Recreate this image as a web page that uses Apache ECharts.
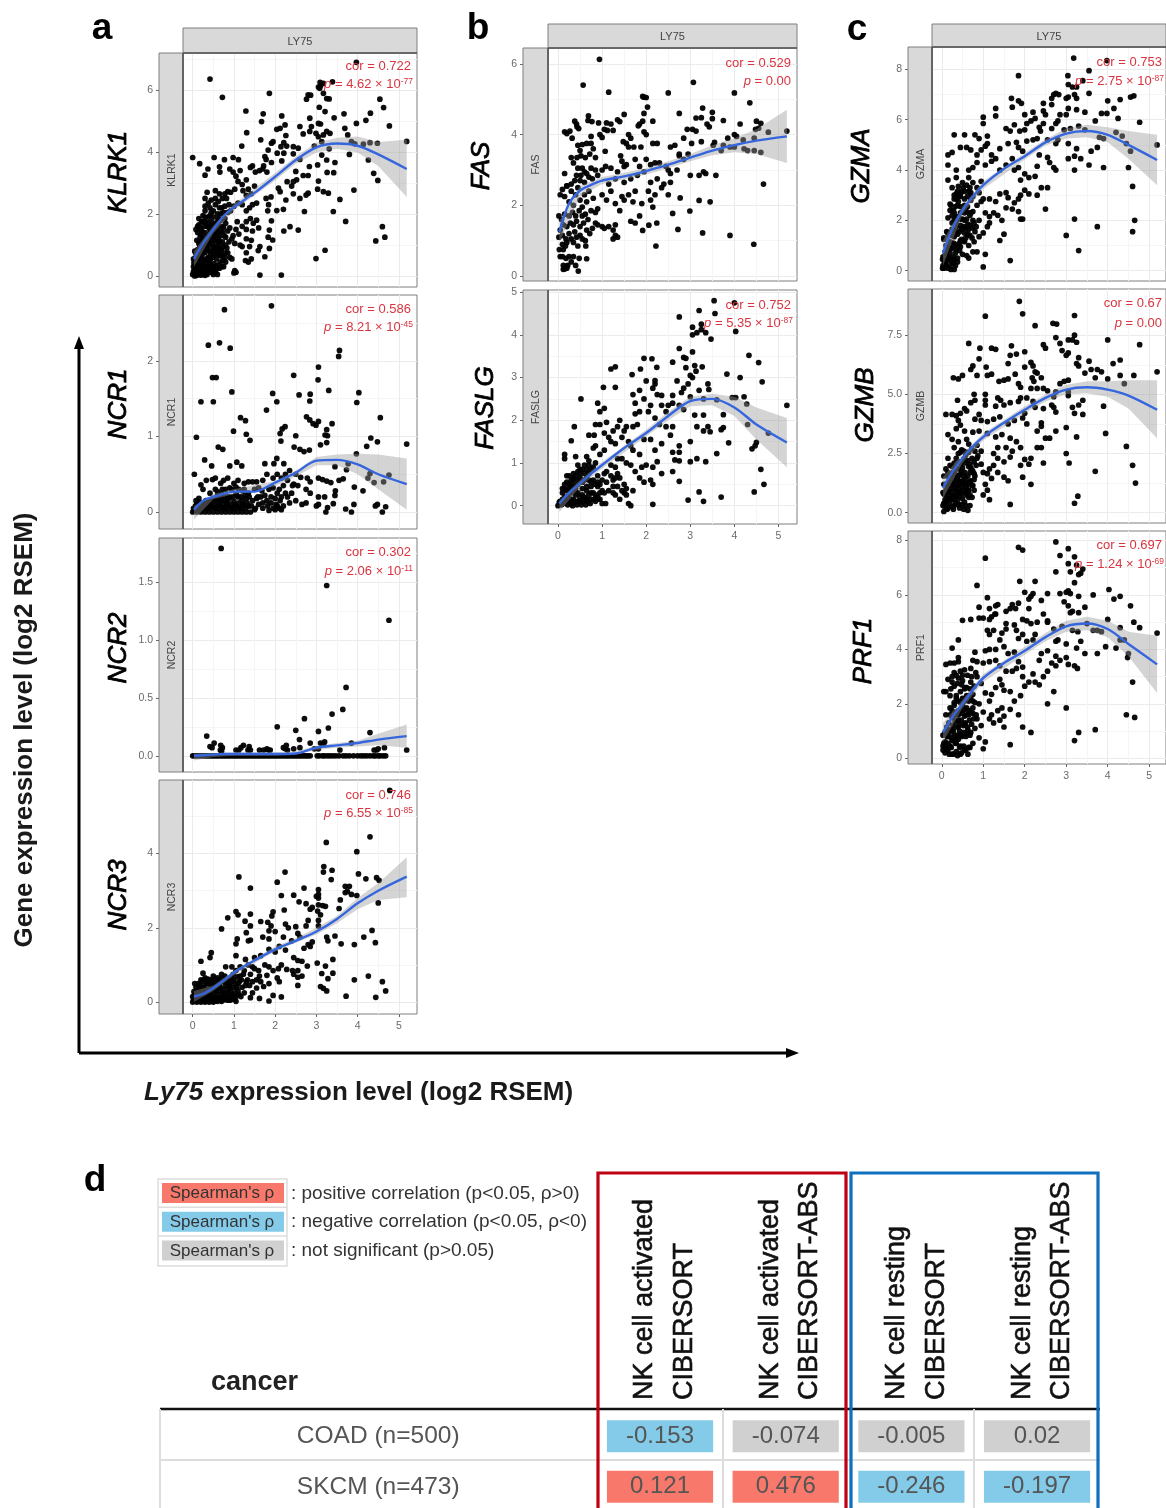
<!DOCTYPE html>
<html><head><meta charset="utf-8">
<style>html,body{margin:0;padding:0;background:#fff}#c{width:1166px;height:1508px}</style>
<script src="https://cdn.jsdelivr.net/npm/echarts@6/dist/echarts.min.js"></script></head>
<body><div id="c"></div>
<script>
const xTicks=[0,1,2,3,4,5];
const xMinor=[.5,1.5,2.5,3.5,4.5];
const cx=[.03,.25,.5,.75,1,1.5,2,2.5,3,3.5,4,4.5,5.19];
const cix=[.03,.5,1,2,2.5,3,3.5,4,4.5,5.19];

const klrk1=[.42,6.35,.72,5.76,1.86,5.89,1.29,5.32,1.71,5.23,1.67,4.98,2.16,5.16,3.97,6.89,3.39,6.26,3.09,6.24,3.05,6.09,3.1,6.13,3.17,6.21,3.08,6.05,2.8,5.84,2.76,5.7,2.86,5.83,3.17,5.89,3.25,5.72,3.31,5.71,3.07,5.44,3.21,5.3,4.54,5.7,4.63,5.43,4.31,5.25,4.2,5.02,3.97,4.92,4.77,4.84,3.67,5.23,3.43,5.1,5.19,4.34,2.24,4.87,2.12,4.76,2.04,4.73,1.31,4.62,1.65,4.39,1.19,4.19,1.91,4.28,1.95,4.33,2.26,4.53,2.21,4.3,2.14,4.17,2.28,4.19,2.44,4.17,2.56,4.12,2.21,3.96,2.44,3.94,2.05,3.96,1.83,4.06,1.75,3.85,1.78,3.76,1.91,3.66,2.16,3.71,2.6,4.82,2.84,5.09,2.88,4.82,2.68,4.58,2.84,4.66,2.99,4.6,3.05,4.92,3.1,4.9,3.25,4.66,3.17,4.55,3.05,4.49,3.33,4.6,3.13,4.33,2.95,4.19,3.31,4.1,3.69,4.76,3.76,4.55,3.85,4.33,3.93,4.26,4.14,4.25,4.3,4.3,4.48,4.28,3.8,3.92,4.26,3.74,4.39,3.31,4.49,3.08,3.91,2.77,3.57,2.47,3.41,2.08,3.71,1.76,4.6,1.59,4.66,1.25,4.44,1.13,3.21,.83,2.99,.56,1.63,.03,2.15,.03,3.45,3.66,3.25,3.74,3.13,3.9,3.03,3.58,2.83,3.53,3.26,3.34,3.42,3.33,3.05,3.06,3.03,2.8,3.17,2.72,3.29,2.67,2.8,2.67,2.75,2.61,2.6,2.5,2.44,2.65,2.26,2.45,2.71,2.08,2.68,3.24,2.8,3.24,2.5,3.37,2.6,3.76,2.44,3.04,2.52,3.1,2.4,2.9,2.29,3.04,2.12,2.72,2.08,2.83,2.56,1.48,2.36,1.59,2.21,1.45,2.2,2.15,2.04,2.11,1.91,1.78,1.86,1.48,1.83,1.25,1.94,1.16,1.86,.89,1.75,.62,1.63,.95,1.59,.82,
0,3.82,.17,3.62,.37,3.45,.3,3.25,.52,3.82,.77,3.75,.65,3.52,.66,3.35,.98,3.82,1.11,3.75,.9,3.45,.98,3.35,1.05,3.22,1.15,3.4,1.1,3.05,1.2,2.95,1.3,3.1,1.4,3.5,1.45,3.55,1.52,3.35,1.62,3.4,1.7,3.45,1.72,3.55,1.8,3.35,1.35,2.8,1.42,2.65,1.5,2.9,1.3,2.6,1.22,2.75,1.02,2.8,.92,2.7,.85,2.72,.78,2.65,.65,2.65,.55,2.75,.45,2.45,.35,2.7,.3,2.5,.42,2.2,.3,2.1,.25,1.95,.38,1.9,.5,2.1,.55,2.3,.62,2.4,.7,2.2,.72,2.5,.82,2.5,.88,2.3,.92,2.1,1,2.25,1.1,2.35,1.2,2.3,1.3,2.1,1.38,2.2,1.45,2.3,1.55,2.35,1.78,2.5,1.84,2.3,1.9,2.55,1.82,2.1,
1.3,1.75,1.4,1.85,1.47,1.7,1.55,1.8,1.6,1.55,1.45,1.45,1.3,1.5,1.2,1.6,1.12,1.35,1.05,1.5,1.08,1.75,.98,1.3,.9,1.55,.8,1.7,.7,1.6,.62,1.85,.55,1.7,.45,1.75,.35,1.6,.25,1.75,.15,1.65,.12,1.4,.08,1.5,.2,1.35,.3,1.4,.42,1.5,.5,1.4,.6,1.5,.72,1.4,.8,1.25,.88,1.1,1.02,1.05,1.15,1.0,1.2,.95,1.3,1.2,1.42,1.15,1.38,.95,1.3,.75,1.28,.5,1.35,.45,1.42,.55,
0,.05,.05,0,.08,.1,.1,.02,.12,.15,.15,.05,.18,.12,.2,.03,.22,.1,.25,.05,.28,.15,.3,.02,.32,.1,.35,.05,.05,.2,.1,.3,.02,.3,.15,.35,.2,.25,.25,.35,.3,.28,.35,.3,.4,.2,.45,.12,.5,.05,.55,.12,.6,.05,.42,.35,.48,.3,.55,.3,.65,.25,.7,.3,.75,.3,.02,.55,.08,.6,.12,.65,.18,.55,.22,.6,.28,.5,.33,.55,.38,.6,.43,.55,.48,.6,.52,.7,.58,.55,.62,.7,.68,.65,.72,.65,.05,.8,.12,.85,.2,.8,.25,.9,.3,.75,.36,.85,.42,.8,.5,.85,.55,.95,.6,.85,.65,.9,.7,.85,.15,1.05,.22,1.1,.28,1.15,.35,1.05,.4,1.1,.47,1.05,.53,1.15,.6,1.1,.66,1.1,.72,1.1,.8,1.0,.85,.75,.9,.6,.95,.55,.8,.45,1,.1,1.05,.12,1.02,.17,.38,1.3,.45,1.25,.55,1.3,.65,1.3,.18,1.55,.28,1.6,.4,1.55,.52,1.6,.62,1.65,.75,1.55,.85,1.45,.95,1.2];
const klrk1Dense=[.02,.15,.07,.25,.13,.45,.17,.3,.23,.45,.27,.25,.33,.42,.37,.15,.41,.45,.47,.2,.52,.4,.57,.22,.62,.35,.67,.45,.73,.5,.78,.6,.83,.9,.03,.42,.08,.72,.14,.75,.17,.93,.23,.72,.27,1,.32,.92,.38,.98,.44,.7,.49,.95,.53,.85,.58,.72,.63,1,.68,.78,.74,.95,.8,.75,.1,1.15,.18,1.25,.25,1.2,.31,1.25,.37,1.18,.43,1.38,.5,1.22,.57,1.38,.63,1.22,.68,1.42,.76,1.3,.12,1.6,.22,1.45,.3,1.75,.37,1.72,.45,1.62,.55,1.48,.6,1.75,.68,1.8,.78,1.85,.15,1.85,.22,1.75,.3,1.9,.42,1.95,.5,1.9,.6,2,.68,2,.75,2.05,.3,2.25,.38,2.35,.45,2.05,.55,2.5,.65,2.2,.78,2.25,.85,2.05];
const klrk1L=[.55,1.05,1.5,1.93,2.22,2.68,3.2,3.74,4.15,4.27,4.2,3.92,3.45];
const klrk1U=[.8,1.62,2.32,3.32,3.85,4.3,4.46,4.5,4.32,4.39];
const klrk1D=[.3,1.38,2.12,3.08,3.62,3.98,4.1,3.98,3.55,2.55];

const ncr1=[.77,2.68,1.91,2.73,.38,2.21,.65,2.24,.91,2.17,.48,1.78,.57,1.78,.95,1.59,.2,1.46,.5,1.46,1.94,1.57,2.04,1.46,1.79,1.35,2.45,1.81,2.58,1.55,2.85,1.56,2.84,1.47,3.05,1.92,3.04,1.75,3.56,2.14,3.54,2.06,3.3,1.61,4.03,1.58,3.98,1.45,4.55,1.25,3.38,1.17,1.16,1.25,1.28,1.21,.99,1.07,1.3,1.03,1.39,.95,.62,.86,.73,.83,.09,.99,.29,.69,.46,.61,.04,.5,2.24,1.13,2.17,1.1,2.12,1.04,2.14,.94,2.5,1.01,2.46,.86,2.6,.83,2.7,.8,2.83,.82,2.76,1.26,2.84,1.22,2.92,1.17,3.05,1.2,2.99,1.15,3.25,1.09,3.21,1.02,3.27,1.01,3.25,.92,3.1,.89,4.32,.98,4.48,.93,4.22,.87,3.97,.77,5.19,.9,2.04,.71,1.75,.64,1.97,.64,2.21,.64,1.07,.66,1.19,.61,.9,.61,4.6,0,4.68,.07,4.48,.1,4.43,.08,3.85,0,3.71,.04,3.91,.1,3.23,0,3.27,.06,3.41,.11,3.45,.22,3.46,.28,4.13,.28,3.92,.33,3.73,.56,3.77,.64,3.45,.6,4.4,.39,4.3,.51,4.25,.45,4.63,.4,4.76,.49,3.65,.44,3.55,.42,3.35,.39,3.25,.41,3.15,.43,3.05,.45,3.05,.2,3.05,.1,3,.08,3.2,.2,2.85,.25,2.75,.12,2.65,.1,2.5,.15,2.4,.25,2.3,.2,2.2,.08,2.15,.03,2,.03,1.85,.02,1.7,.05,1.6,.1,1.5,.03,2.1,.3,2.2,.35,2.3,.42,2.45,.37,2.55,.35,2.75,.3,2.85,.4,2.78,.45,2.62,.46,2.5,.5,2.35,.55,2.25,.5,2.15,.45,2.05,.5,1.95,.45,1.8,.5,1.7,.42,1.55,.4,1.45,.4,1.35,.4,1.25,.38,1.1,.42,1,.38,.85,.45,.75,.42,.68,.38,.55,.45,.48,.43,.33,.42,.25,.3,.2,.36,.42,.25,.6,.27,.7,.25,.8,.3,.95,.3,1.05,.33,1.2,.28,1.35,.25,1.5,.3,1.6,.32,1.85,.3,1.95,.32,2.05,.25,
0,0,.05,.02,.1,0,.1,.1,.15,.03,.18,.12,.2,0,.25,.05,.3,0,.3,.12,.35,.06,.4,0,.4,.15,.45,.08,.5,0,.5,.18,.55,.06,.6,0,.6,.14,.65,.08,.7,0,.7,.18,.75,.06,.8,0,.8,.15,.85,.08,.9,0,.9,.2,.95,.06,1,0,1,.14,1.05,.08,1.1,0,1.1,.2,1.15,.06,1.2,0,1.2,.15,1.25,.09,1.3,0,1.3,.18,1.35,.08,1.4,0,1.45,.15,1.55,.18,1.65,.2,1.7,.12,1.8,.15,1.9,.12,2,.18,2.05,.08,2.12,.15,1.05,.24,.85,.2,.6,.22,.15,.18,.08,.15];
const ncr1Dense=[.02,.05,.07,.08,.12,.05,.17,.07,.22,.09,.27,.12,.32,.15,.37,.12,.42,.1,.47,.14,.52,.1,.57,.17,.62,.12,.67,.15,.72,.11,.77,.2,.82,.12,.87,.17,.92,.1,.97,.2,1.02,.1,1.07,.22,1.12,.12,1.17,.2,1.22,.1,1.27,.22,1.32,.12,1.37,.2,1.42,.08,.2,.03,.3,.06,.4,.05,.5,.06,.6,.05,.7,.06,.8,.05,.9,.06,1,.05,1.1,.06,1.2,.05,1.3,.06,1.52,.05,1.58,.2,1.68,.28,1.75,.22,1.82,.08,1.9,.2,1.95,.05,2.02,.1,2.1,.05,2.15,.2,2.25,.25,2.35,.12,2.42,.35,.55,.3,.72,.3,.9,.32,1.12,.3,1.25,.3];
const ncr1L=[.03,.15,.2,.24,.27,.27,.39,.52,.68,.69,.63,.5,.37];
const ncr1U=[.08,.24,.3,.41,.55,.73,.76,.77,.76,.71];
const ncr1D=[-.1,.17,.24,.34,.47,.62,.62,.5,.3,.03];

const ncr2=[.69,1.79,3.25,1.47,4.76,1.17,3.72,.59,3.64,.4,3.38,.36,2.71,.32,2.05,.25,2.5,.22,3.05,.21,3.29,.24,4.3,.2,.34,.17,2.59,.14,.52,.11,.42,.08,.47,.07,.68,.09,.72,.07,.67,.05,.7,.04,1.12,.05,1.05,.05,1.17,.07,1.23,.09,1.34,.05,1.37,.08,1.4,.05,1.62,.05,1.72,.05,1.8,.06,1.84,.05,1.88,.05,2.2,.07,2.25,.06,2.27,.09,2.3,.05,2.45,.06,2.6,.07,2.85,.11,2.95,.06,3.05,.06,3.1,.11,3.17,.1,3.2,.12,3.85,.11,3.57,.05,4.4,.05,4.46,.05,4.5,.06,4.65,.07,5.19,.05,
0,0,.05,0,.1,0,.15,0,.2,0,.25,0,.3,0,.35,0,.4,0,.45,0,.5,0,.55,0,.6,0,.65,0,.7,0,.75,0,.8,0,.85,0,.9,0,.95,0,1,0,1.05,0,1.1,0,1.15,0,1.2,0,1.25,0,1.3,0,1.35,0,1.4,0,1.45,0,1.5,0,1.55,0,1.6,0,1.65,0,1.7,0,1.75,0,1.8,0,1.85,0,1.9,0,1.95,0,2,0,2.05,0,2.1,0,2.15,0,2.2,0,2.25,0,2.3,0,2.35,0,2.4,0,2.45,0,2.5,0,2.55,0,2.6,0,2.65,0,2.7,0,2.75,0,2.8,0,2.85,0,3.02,0,3.07,0,3.15,0,3.2,0,3.27,0,3.33,0,3.4,0,3.47,0,3.55,0,3.65,0,3.72,0,3.8,0,3.9,0,4,0,4.08,0,4.15,0,4.22,0,4.3,0,4.38,0,4.43,0,4.5,0,4.55,0,4.62,0,4.68,0];
const ncr2L=[0,.005,.01,.015,.015,.015,.015,.02,.07,.09,.11,.14,.17];
const ncr2U=[.02,.025,.03,.03,.04,.085,.11,.13,.19,.27];
const ncr2D=[-.04,-.01,0,0,.01,.05,.07,.08,.09,.07];

const ncr3=[4.78,5.7,4.3,4.45,3.24,4.3,3.98,4.05,3.18,3.65,3.17,3.5,3.38,3.55,3.36,3.3,4.02,3.45,4.2,3.32,4.46,3.35,4.52,3.28,3.7,3.12,3.8,3.12,3.7,2.95,3.75,2.98,3.85,2.9,3.98,2.87,4.5,2.67,1.12,3.37,1.4,3.07,2.24,3.5,2.05,3.23,2.15,2.87,2.45,2.88,2.7,3.07,3.05,3.03,3.05,2.9,3.0,2.85,3.05,2.8,3.58,2.75,3.55,2.52,3.05,2.62,3.15,2.6,3.22,2.58,2.58,2.7,2.75,2.65,2.85,2.5,2.9,2.55,3.03,2.45,3.1,2.35,2.22,2.48,1.95,2.43,1.92,2.32,1.05,2.44,1.1,2.35,1.4,2.37,1.27,2.18,1.4,2.05,1.65,2.17,1.82,2.15,1.9,2.05,2.25,2.1,2.32,2,2.5,2.03,2.75,2.05,2.8,2.2,3.05,2.2,3.05,2.05,.85,2.27,.7,1.97,1.3,1.87,1.08,1.7,1.05,1.57,1.35,1.65,1.4,1.67,1.7,1.75,1.85,1.7,2,1.9,1.85,1.92,2.2,1.75,2.4,1.65,2.55,1.85,2.6,1.75,2.8,1.55,2.9,1.62,2.85,1.5,2.7,1.45,3.25,1.75,3.28,1.65,3.45,1.78,3.6,1.57,3.92,1.55,4.15,1.75,4.35,1.93,4.43,1.6,3.4,1.15,3.13,.77,3.22,.97,3.4,.78,3.28,.63,3.1,.42,3.17,.37,3.25,.3,3.72,.16,3.92,.6,4.26,.7,4.6,.55,4.68,.3,4.44,.13,3.02,1.05,2.78,.97,2.65,1.1,2.55,1.12,2.42,.85,2.55,.85,2.45,.75,2.55,.67,2.65,.7,2.55,.45,2.28,.88,2.15,1,2.08,.9,2.15,.14,1.95,.18,1.85,.03,1.62,.1,1.4,.12,.9,.1,.2,1.1,.42,1.2,.45,1.33,.25,.78,.3,.65,.05,.5,1.05,1.25,1.28,1.15,1.5,1.2,1.65,1.25,1.85,1.42,2,1.35,2.1,1.5,2.25,1.4,2.45,1.2,1.75,1,1.85,.95,1.95,.85,1.6,.85,1.5,.9,1.4,.75,1.62,.7,1.8,.72,2.05,.65,2.1,.55,1.85,.5,1.72,.42,1.55,.38,1.45,.25,1.3,.55,1.15,.7,1.05,.85,.95,.95,.8,.95,.7,.75,.6,.65,.5,.7,.42,.6,.35,.5,.2,.6,.15,.4,.25,.4,.3,.3,.38,.35,.45,.45,.55,.5,.65,.5,.75,.55,.85,.6,.95,.55,1,.4,1.1,.5,1.2,.4,1.25,.25,.05,.2,.1,.3,.12,.1,.18,.22,.22,.12,.28,.18,.33,.1,.4,.2,.47,.15,.52,.25,.6,.2,.68,.3,.72,.15,.8,.25,.88,.35,.95,.2,1.05,.15,1.1,.3,0,0,.05,.05,.1,0,.15,.03,.2,0,.25,.03,.3,0,.35,.03,.4,0,.45,.03,.5,0,.55,.03,.6,.02,.65,.05,.7,.02,.75,.06,.85,.05,.95,.07,1.05,.02,0,.15,.08,.14,.15,.18,.55,.35,.65,.4,.8,.45,.9,.45,1.0,.6,1.15,.95,1.25,.85,1.35,1,1.45,.95];
const ncr3Dense=[.02,.08,.07,.12,.12,.25,.17,.35,.22,.3,.27,.4,.32,.22,.37,.15,.42,.28,.47,.35,.52,.1,.57,.3,.62,.12,.67,.4,.72,.25,.77,.35,.82,.15,.87,.22,.92,.3,.97,.12,1.02,.25,1.07,.4,1.12,.2,1.17,.15,.03,.28,.08,.4,.13,.5,.18,.45,.23,.55,.28,.6,.33,.5,.37,.62,.43,.5,.48,.55,.53,.62,.58,.45,.63,.6,.68,.55,.73,.65,.78,.7,.83,.55,.88,.48,.93,.65,.98,.75,1.03,.5,1.08,.68,1.13,.55,1.18,.6,1.23,.75,1.28,.45,1.33,.6,1.38,.45,1.45,.55,1.55,.6,1.65,.55,.4,.08,.5,.12,.6,.08,.7,.1,.8,.08,.9,.05,1.0,.08,.28,.08,.18,.08];
const ncr3L=[.15,.22,.38,.58,.8,1.12,1.42,1.65,1.9,2.24,2.66,3,3.38];
const ncr3U=[.3,.45,.85,1.5,1.72,2,2.32,2.8,3.2,3.9];
const ncr3D=[0,.3,.72,1.37,1.6,1.82,2.12,2.5,2.75,2.82];

const fas=[.94,6.13,.57,5.4,1.15,5.2,1.92,5.08,1.95,5.06,2.0,5.05,2.5,5.18,3.07,5.48,4,5.18,4.35,4.9,2.03,4.78,1.95,4.6,2.15,4.38,1.5,4.57,.69,4.53,.38,4.38,.42,4.3,.43,4.22,.47,4.17,.68,4.4,.77,4.37,.92,4.33,1.1,4.33,1.2,4.3,1.05,4.15,1.12,4.12,1.25,4.12,1.4,4.37,1.35,4.42,1.85,4.3,1.92,4.38,1.82,4.25,1.95,4.08,2.0,4.0,2.75,4.6,3.13,4.47,3.28,4.75,3.25,4.48,3.5,4.63,3.5,4.45,3.38,4.3,3.43,4.22,3.75,4.4,4.13,4.3,4.5,4.38,4.6,4.32,4.55,4.18,4.48,4.15,4.77,4.07,5.19,4.1,.15,4.08,.2,4.03,.27,4.1,.32,3.9,.75,3.95,.95,4.0,1.0,3.92,1.6,4.0,1.65,3.9,1.48,3.8,1.55,3.75,.55,3.72,.65,3.75,.75,3.75,.8,3.6,.45,3.7,.5,3.55,.3,3.35,.43,3.35,.52,3.4,.62,3.35,.72,3.45,.85,3.35,1.07,3.53,1.6,3.65,1.72,3.65,1.88,3.65,2.15,3.75,2.25,3.75,2.55,3.65,2.65,3.7,2.75,3.45,2.85,3.9,2.93,4.15,3.05,4.15,3.13,4.1,3.03,3.75,3.25,3.8,3.52,3.7,3.55,3.78,3.75,3.7,3.85,3.9,4.0,4.0,4.05,3.95,4.2,3.85,4.45,3.9,4.0,3.65,3.9,3.65,4.22,3.6,4.3,3.55,4.45,3.55,4.6,3.5,3.7,3.55,3.58,2.85,3.0,2.85,3.2,2.85,3.3,2.95,3.35,2.9,
2.22,.85,1.92,1.29,2.06,1.44,2.24,1.5,2.72,1.32,3.28,1.22,3.9,1.15,4.44,.9,2.6,1.77,2.99,1.84,2.77,2.21,3.2,2.14,3.45,2.1,4.66,2.6,.46,.14,.12,.19,.2,.28,.65,.49,
.03,.75,.05,.55,.1,.9,.12,.75,.17,.85,.2,.95,.1,.55,.18,.5,.25,.55,.3,.4,.35,.55,.12,.3,.15,.2,.2,.22,.22,.3,.4,.3,.48,.5,.02,1.1,.1,1.15,.18,1.05,.25,1.2,.3,1.05,.38,1.25,.35,.95,.42,1.1,.5,1.15,.55,1.05,.62,1,.63,.85,.45,.85,.05,1.3,.12,1.45,.2,1.4,.28,1.5,.35,1.45,.42,1.55,.5,1.4,.58,1.5,.65,1.3,.72,1.2,.78,1.35,.02,1.7,.08,1.6,.15,1.75,.25,1.7,.33,1.8,.4,1.7,.48,1.85,.55,1.7,.62,1.75,.68,1.6,.75,1.85,.85,1.5,.9,1.45,1,1.4,1.05,1.35,1.15,1.4,1.25,1.3,1.3,1.15,1.25,1.05,1.35,1.1,1.3,1.45,.05,2.3,.1,2.45,.15,2.25,.2,2.55,.25,2.1,.3,2.4,.35,2,.4,2.3,.45,2.5,.5,2.15,.55,1.95,.6,2.3,.65,2.1,.7,2.4,.8,2.2,.9,1.9,.85,1.8,1,2.3,1.1,2.15,1.2,2.4,1.3,2.05,1.45,2.25,1.4,1.85,1.5,2.15,1.6,2.3,1.7,2.1,1.75,2.4,1.9,2.05,2.05,2.4,2.1,2.15,2.15,1.95,2.2,2.3,2.35,2.5,2.5,2.3,1.65,1.55,1.75,1.5,1.85,1.7,
1.42,3.4,1.45,3.25,1.5,3.1,2.0,3.3,2.1,3.15,2.2,3.2,2.3,3.2,2.45,3.1,2.5,3,2.55,2.9,2.7,3,2.75,3.4,2.85,3.3,2.95,3.45,1.55,3.15,1.75,3.3,1.85,3.1,1.95,2.95,1.35,2.95,1.2,3.05,1.08,3.1,1,3,.9,2.85,.85,3,.75,3.05,.65,2.9,.6,2.95,.52,2.85,.45,3.05,.35,3.2,.15,2.9,.3,2.6,.2,2.55,.38,2.7,.42,2.85,.5,2.7,.55,3.05,.6,2.65,.7,2.8,.78,2.75,1.15,2.6,1.3,2.75,1.5,2.65,1.65,2.75,1.8,2.85,2.1,2.65,2.25,2.75,2.4,2.6,2.55,2.65];
const fasL=[1.25,2.05,2.42,2.58,2.7,2.82,2.97,3.15,3.35,3.55,3.7,3.83,3.95];
const fasU=[1.55,2.55,2.8,3.05,3.25,3.45,3.7,3.9,4.15,4.7];
const fasD=[.95,2.25,2.6,2.87,3.05,3.25,3.42,3.5,3.45,3.2];

const faslg=[3.54,4.8,4,4.75,3.2,4.57,3.56,4.5,2.75,4.42,3.05,4.18,3.25,4.25,3.25,4.12,3.15,4.05,3.05,4,3.35,4.05,3.47,3.9,4.03,4.08,2.75,3.68,3.05,3.6,2.85,3.47,2.9,3.45,4.33,3.52,4.55,3.35,1.95,3.45,2.13,3.44,2.6,3.36,1.3,3.25,1.2,3.2,2.24,3.24,1.87,3.2,1.68,3.07,2.9,3.23,3.1,3.28,3.13,3.15,3.27,3.25,3.0,3.05,3.05,3.0,3.83,3.08,4.13,3,4.63,2.9,1.03,2.77,1.3,2.77,2,2.92,2.2,2.93,2.2,2.85,2.15,2.75,2.7,2.92,2.95,2.85,2.85,2.75,2.8,2.65,3.2,2.7,3.4,2.85,3.42,2.72,.52,2.5,1.7,2.6,1.85,2.7,2.25,2.6,2.35,2.58,2.6,2.58,3.0,2.55,3.3,2.5,3.6,2.48,3.95,2.53,4.03,2.53,4.22,2.55,4.28,2.38,5.19,2.35,.9,2.4,.95,2.2,1.05,2.28,1.75,2.4,1.95,2.5,2.1,2.35,2.05,2.2,1.85,2.2,1.75,2.15,2.2,2.05,2.35,2.35,2.5,2.35,2.45,2.2,2.6,2.4,2.75,2.35,2.85,2.25,3.1,2.12,3.3,2.12,3.75,2.13,4.3,1.9,3.15,1.85,3.3,1.75,3.4,1.85,3.45,1.73,3.7,1.78,3.75,1.83,3.87,1.47,3,1.5,4.5,1.48,4.47,1.4,4.4,1.33,4.77,1.7,3.6,1.22,3,1.03,3.15,1.1,3.35,1.03,4.6,.85,4.67,.5,4.45,.32,3.7,.2,3.2,.32,2.95,.13,3.3,.1,2.15,.03,2.75,.57,2.6,.8,2.35,.75,2.75,1.05,2.65,1.07,2.75,1.25,2.6,1.25,2.75,1.4,2.55,1.65,2.6,1.85,2.45,1.85,2.3,1.9,2.35,1.45,2.2,1.3,2.25,1.03,2.15,.9,2,.95,1.9,.9,1.85,1.2,1.7,1.3,1.95,1.55,1.65,1.4,2.1,1.55,.37,1.85,.3,1.52,.15,1.2,.15,1.1,.4,1.15,.65,1.15,.7,1.05,.85,1.4,.8,1.35,.7,1.65,.82,1.65,.85,1.9,.95,1.9,1.05,1.7,1.1,1.95,1.15,1.6,1.2,1.5,1.3,1.45,1.25,1.75,1.35,1.85,1.4,2,1.45,1.6,1.5,1.75,1.6,1.5,1.55,1.85,1.7,1.85,1.8,1.9,1.45,1.1,1.55,1,1.65,.95,1.75,.8,1.85,.65,1.95,.55,2.1,.6,2.15,.5,1.7,.35,1.55,.4,1.6,.05,1.65,0,1.0,.05,1.08,.05,1.4,.15,1.5,.3,1.35,.45,1.25,.45,1.2,.7,1.3,.9,1.35,1.1,1.05,1.3,.95,1.2,.85,1.0,.75,.85,.7,.75,.6,.95,.5,.85,.45,.95,.35,.65,.25,.7,.2,.55,.15,.4,.1,.3,.25,.4,.35,.5,.45,.6,.55,.55,.65,.65,.75,.55,.9,.7,1,.6,1.1,.55,1.15,.35,1.05,.3,.9,.45,.85,.25,.75,.3,.65,.35,.55,.25,.45,.3,.35,.3,.3,.15,.2,.2,.1,.15,0,0,.03,.08,.08,.02,.12,.05,.18,.1,.22,.02,.28,.08,.33,0,.38,.08,.43,.02,.48,.12,.53,.02,.58,.1,.63,.02,.68,.1,.73,.05,.82,.15,.9,.15,.95,.3,1,.35];
const faslgDense=[.05,.1,.1,.05,.15,.2,.2,.1,.25,.25,.3,.05,.35,.15,.4,.25,.45,.1,.5,.2,.55,.1,.6,.2,.65,.15,.7,.25,.75,.15,.8,.3,.85,.1,.9,.2,.95,.15,.1,.4,.15,.5,.2,.35,.25,.5,.3,.45,.35,.6,.4,.4,.45,.5,.5,.65,.55,.4,.6,.6,.65,.45,.7,.6,.75,.45,.8,.6,.85,.5,.9,.55,.95,.5,.2,.7,.3,.6,.35,.75,.4,.7,.45,.8,.5,.75,.55,.85,.6,.75,.65,.85,.7,.95,.8,.9,1.05,.75,1.1,.8,1.2,.95,1.25,.6,1.3,.65,1.35,.75,1.4,.65,1.45,.35,1.5,.5,1.55,.25,1.3,.25,1.25,.3];
const faslgL=[.05,.3,.52,.75,.95,1.35,1.7,2.1,2.45,2.5,2.3,1.9,1.48];
const faslgU=[.12,.6,1.02,1.78,2.2,2.55,2.62,2.55,2.3,2.05];
const faslgD=[-.15,.44,.87,1.62,2,2.33,2.35,2.1,1.55,.9];

const gzma=[3.18,8.45,3.98,8.35,3.55,7.95,1.85,7.75,3.04,7.75,3.4,7.55,3.05,7.4,3.15,7.3,3.25,7.3,3.55,7.05,2.7,7,2.75,7.05,2.82,7,3.05,6.9,3.2,7,3.25,6.85,3.0,6.85,2.65,6.85,4,6.75,4.3,6.8,4.55,6.9,4.63,6.95,1.68,6.85,1.85,6.75,1.92,6.65,2.45,6.65,2.65,6.6,1.7,6.5,2.45,6.35,3.05,6.45,3.25,6.4,3.45,6.3,3.85,6.25,3.98,6.25,4.15,6.45,1.3,6.45,1.3,6.15,1,6.1,2.0,6.2,2.2,6.3,2.25,6.05,2.5,6.2,2.85,6.2,3,6.2,3.7,5.95,4.25,6.05,4.77,5.9,2.05,5.85,2.15,5.95,2.45,5.85,2.8,5.95,2.75,5.85,1.0,5.85,.3,5.4,.55,5.4,.8,5.4,.9,5.25,1.1,5.35,1.55,5.65,1.65,5.55,1.75,5.8,1.88,5.55,2.0,5.6,2.35,5.7,2.38,5.55,2.65,5.65,2.95,5.6,3.1,5.65,3.3,5.75,3.45,5.6,3.9,5.25,4.2,5.5,4.35,5.35,4.45,5.05,4.55,4.75,5.19,5,.15,4.6,.25,4.7,.45,4.9,.6,4.9,.7,4.8,.85,4.6,.95,4.8,1.05,4.95,1.1,5.05,1.2,4.6,1.4,4.85,1.6,5.05,1.8,5.1,1.85,4.9,1.95,4.75,2.05,5.15,2.2,5.2,2.3,5.25,2.55,5.2,2.75,5.05,2.8,5.2,3.05,5.05,3.25,4.85,3.6,4.75,3.75,4.9,3.8,5.3,3.2,4.55,3.35,4.45,3.05,4.45,3.55,4.2,3.9,4.1,4.5,4.1,4.6,3.35,3.2,4.0,2.75,4.0,2.7,4.1,2.6,4.3,2.55,4.5,2.35,4.6,2.3,4.15,2.55,3.3,2.5,2.45,3.2,2.05,3.75,1.75,4.6,1.55,4.65,2,3.0,1.4,3.3,.8,.15,4.2,.35,4.0,.15,3.6,.35,3.7,.65,4.0,.75,4.1,.85,4.3,1.05,4.2,1.2,4.35,1.3,4.45,1.4,4.0,1.55,4.2,1.7,4.45,1.75,4.0,1.85,4.1,1.9,3.6,2.0,3.85,2.1,3.7,2.25,3.75,2.4,3.3,2.3,3.0,2.1,3.05,2.0,3.2,1.9,3.0,1.85,2.85,1.75,2.7,1.6,2.9,1.55,3.1,1.4,3.05,1.3,2.75,1.15,2.85,1.0,2.85,.9,3.1,.85,3.3,.95,3.55,.75,3.5,.65,3.7,.5,3.5,.4,3.35,.25,3.3,.35,3.05,.45,2.95,.55,3.15,.65,3.15,.7,2.8,.55,2.6,.4,2.75,.3,2.85,.22,2.6,.2,2.4,.3,2.3,.15,2.1,.35,2.15,.45,2.05,.55,2.3,.68,2.2,.75,2.0,.9,2.0,1.05,2.3,1.15,2.15,1.25,2.3,1.35,2.2,1.45,2.0,1.55,2.5,1.7,2.45,1.85,2.35,1.9,2.05,1.95,2.05,1.5,1.45,1.4,1.2,1.1,1.75,1.15,1.9,1.0,1.5,.9,1.35,.8,1.55,.65,1.65,.55,1.5,.45,1.8,.35,1.75,.25,1.65,.15,1.5,.05,1.25,.1,1.0,.2,1.15,.3,1.35,.45,1.2,.55,1.15,.65,1.0,.75,.75,.85,.75,1.05,.65,1.0,.15,1.65,.4,.25,.9,.35,.85,.45,.95,.5,.65,.6,.6,.65,.5,.1,.7,.15,.55,.2,.7,.3,.45,.05,.4,.1,.2,.02,.45,.05,.1,.15,.1,.2,.2,.28,.3,.3,.05,.33,.2,.38,.35,.22,.05,.02,.1];
const gzmaDense=[.03,.2,.08,.3,.13,.4,.18,.5,.23,.4,.28,.55,.33,.7,.38,.5,.43,.8,.03,.55,.08,.75,.13,.8,.18,.95,.23,.9,.28,1.1,.33,1.05,.38,.95,.43,1.1,.48,1.25,.53,1.2,.58,1.3,.63,1.45,.68,1.4,.73,1.3,.78,1.15,.05,1.3,.12,1.55,.17,1.4,.22,1.4,.28,1.6,.33,1.55,.38,1.45,.43,1.55,.48,1.65,.53,1.75,.58,1.7,.63,1.85,.68,1.8,.73,1.7,.78,1.9,.83,1.75,.25,1.9,.3,2.05,.35,1.95,.4,2.15,.45,2.3,.5,2.05,.55,2,.6,2.05,.65,2.3,.7,2.3,.75,2.35,.2,2.65,.25,2.2,.28,2.4,.33,2.55,.38,2.6,.45,2.55,.52,2.4,.58,2.45,.62,2.55,.35,2.85,.42,2.95,.48,3.15,.55,2.85,.62,2.95,.7,3.1,.75,2.95,.3,3,.38,3.15,.45,3.05,.52,3.3,.6,3.4,.68,3.3,.85,2.6,.95,2.75];
const gzmaL=[.7,1.65,2.4,2.95,3.4,4.05,4.55,5.1,5.45,5.55,5.4,5,4.4];
const gzmaU=[1.2,2.55,3.55,4.68,5.22,5.65,5.8,5.7,5.55,5.4];
const gzmaD=[.2,2.25,3.25,4.42,4.98,5.25,5.3,5.1,4.45,3.4];

const gzmb=[1.87,8.93,1.95,8.4,1.05,8.3,3.2,8.33,2.25,7.9,2.68,8,2.77,7.97,2.75,7.4,2.85,7.15,3.05,7.3,3.15,7.3,3.2,7.5,3.25,7.2,4,7.3,4.77,7.1,.65,7.15,.92,6.95,1.2,6.95,1.3,6.9,1.68,7.05,2.45,7.1,2.5,6.95,1.65,6.65,1.8,6.7,2.0,6.8,.9,6.5,1.07,6.15,.7,6.05,.75,6.2,1.6,6.3,2.0,6.15,2.15,6.35,2.2,6.2,2.25,5.95,2.3,5.9,2.18,5.7,2.22,5.55,2.4,5.7,2.9,6.85,3.0,6.65,3.05,6.75,3.3,6.55,3.25,6.3,3.3,6.2,3.55,6.4,3.6,6.05,3.75,6.05,3.85,5.95,3.45,5.9,3.7,5.7,4.13,6.3,4.3,6.45,5.19,5.95,.28,5.7,.4,5.65,.5,5.8,.85,5.8,1.1,5.8,1.2,5.85,1.38,5.55,1.5,5.6,1.6,5.65,1.77,5.85,4.3,5.8,4.63,5.8,4,5.65,4.4,5.45,1.85,5.45,1.9,5.3,2.15,5.25,2.3,5.25,2.45,5.25,2.55,5.15,2.85,5.45,2.95,5.55,3.05,5.6,2.75,5.1,3.05,5.1,3.05,4.95,2.7,4.9,3.4,4.75,3.3,4.55,3.9,4.5,.1,4.15,.25,4.15,.35,4.1,.45,4.2,.55,4.4,.6,4.3,.38,4.75,.7,4.65,.8,4.75,.78,5,1.05,5,1.05,4.75,1.05,4.55,1.35,4.85,1.42,4.75,1.3,4.5,1.5,4.55,1.65,4.65,1.85,4.7,1.9,4.85,2.05,4.85,2.2,4.7,2.25,4.45,2.45,4.4,2.7,4.45,2.75,4.25,2.65,4.55,3.15,4.45,3.2,4.2,3.4,4.15,2.0,4.2,1.95,4.0,1.75,3.9,1.6,3.75,1.4,4.05,1.25,3.95,1.1,3.85,.95,3.9,.9,4.15,.8,3.95,.4,3.9,.45,3.7,.35,3.55,.55,3.45,.75,3.4,.9,3.45,1.1,3.35,1.3,3.2,1.45,3.3,1.65,3.15,1.8,3,1.9,2.75,2.0,2.25,2.1,2.05,2.15,2.3,2.45,2.1,2.4,2.75,2.3,2.75,2.5,3.15,2.6,3.15,2.75,3.45,2.3,3.45,2.05,3.75,2.4,3.65,2.4,3.8,3.0,3.6,3.25,3.2,3.95,3.35,4.45,2.8,4.6,2,4.67,1.25,3.7,1.75,3.0,2.5,3.07,2.1,3.2,.4,3.28,.7,2.15,1.2,1.65,.35,1.15,.55,1.0,.75,1.95,1.5,1.9,2.0,1.65,2.35,1.7,2.6,1.55,2.75,1.35,2.75,1.25,2.5,1.35,2.3,1.5,2.15,1.25,2,1.15,1.85,1.35,1.7,1.5,1.5,1.6,1.35,1.2,1.45,1.1,1.65,1,1.7,1.05,1.2,1.1,.95,.95,2.05,.85,2.3,.95,2.6,.85,2.85,.65,2.9,.6,3.1,.4,3.0,.25,3.1,.15,3.3,.3,2.75,.45,2.55,.6,2.55,.55,2.3,.35,2.3,.15,2.3,.2,2,.1,1.85,.05,1.55,.15,1.55,.3,1.7,.4,1.85,.5,1.9,.65,1.95,.75,1.75,.8,1.55,.7,1.35,.75,1.15,.65,.95,.6,.75,.5,.6,.55,.45,.4,.35,.3,.3,.05,.05,.15,.2,.25,.25,.05,.4,.1,.45,.3,.55,.2,.6,.05,.8,.1,.95,.2,1,.3,1.05,.4,1,.5,1.1,.6,1.25,.5,1.35,.4,1.35,.3,1.3,.2,1.35,.1,1.2,.15,1.55,.3,1.5,.45,1.6,.55,1.7,.7,1.9,.35,.7,.45,.9,.65,.65,.25,.7,.15,.6,.08,.25];
const gzmbDense=[.03,.3,.08,.55,.13,.15,.18,.4,.23,.55,.28,.15,.33,.4,.38,.55,.43,.2,.48,.35,.53,.15,.58,.3,.63,.1,.68,.3,.03,.85,.08,.75,.13,.9,.18,.75,.23,.85,.28,.7,.33,.9,.38,.85,.43,.7,.48,.8,.53,.95,.58,.85,.63,.95,.68,.75,.73,.65,.78,.95,.05,1.2,.12,1.15,.17,1.3,.22,1.15,.27,1.25,.32,1.15,.37,1.15,.42,1.2,.47,1.3,.53,1.2,.58,1.05,.63,1.2,.68,1.3,.73,1.15,.78,1.4,.15,1.7,.22,1.55,.27,1.7,.33,1.6,.38,1.45,.43,1.6,.48,1.75,.53,1.55,.58,1.45,.63,1.55,.68,1.7,.73,1.8,.78,1.65,.25,1.95,.3,2.1,.35,1.9,.42,2.15,.47,2.05,.53,2.25,.58,2.1,.63,2.2,.68,2.05,.73,2.3,.78,2.15,.83,2.0,.4,2.5,.48,2.65,.53,2.6,.58,2.45,.65,2.55,.72,2.7,.8,2.6,.87,2.4];
const gzmbL=[1.05,1.7,2.3,2.8,3.2,3.8,4.35,4.85,5.2,5.3,5.2,4.95,4.35];
const gzmbU=[1.5,2.5,3.35,4.5,5,5.4,5.55,5.55,5.6,5.6];
const gzmbD=[.6,2.1,3.05,4.2,4.7,5,5.05,4.9,4.4,3.15];

const prf1=[2.75,7.95,1.85,7.75,1.95,7.65,3.05,7.7,2.85,7.45,3.2,7.4,1.05,7.35,3.05,7.15,3.25,7.1,3.4,6.95,2.75,6.85,3.1,6.85,3.3,6.75,3.35,6.8,3.2,6.45,1.88,6.5,2.25,6.5,.85,6.35,4.03,6.2,2.0,6.1,2.2,6.05,2.15,5.95,2.85,6.05,3.0,6.1,3.05,6.15,3.1,6.05,2.55,6.05,3.3,5.95,3.65,6,4.15,5.85,4.3,5.95,1.1,5.9,1.3,5.6,1.35,5.65,1.7,5.65,1.65,5.5,1.85,5.7,1.78,5.5,2.1,5.85,2.4,5.8,2.1,5.5,2.45,5.3,2.55,5.05,2.95,5.75,3.05,5.6,3.1,5.35,3.15,5.4,3.3,5.35,3.45,5.55,.9,5.55,1.15,5.5,1.3,5.3,1.55,5.4,4.55,5.6,4.63,5,4.77,4.8,5.19,4.6,1.0,5.15,.7,5.1,.5,5.07,.9,5.15,1.15,5.1,1.2,5.2,1.28,5.3,1.55,4.95,1.75,4.9,1.95,5.1,2.05,5.05,2.15,4.95,2.3,5.0,2.55,5.0,2.7,4.75,2.9,4.85,3.15,4.7,3.28,4.65,3.5,4.95,3.65,4.7,3.75,4.7,3.85,4.65,4.0,5.1,4.3,4.8,1.1,4.7,1.15,4.55,1.25,4.7,1.45,4.6,1.55,4.75,1.8,4.7,1.85,4.4,1.95,4.55,2.05,4.3,2.25,4.55,2.2,4.35,2.75,4.3,2.8,4.35,3.0,4.2,3.35,4.3,3.25,4.05,3.45,3.85,3.75,3.85,3.95,4.1,4.2,4.05,4.3,4.35,4.4,4.35,4.5,3.85,4.48,3.7,4.6,2.8,4.45,1.6,4.65,1.5,3.7,1.05,3.3,.95,3.2,.65,3.0,1.85,2.7,2.45,2.55,2,2.85,3.6,3.0,3.7,3.05,3.45,3.2,3.4,3.27,3.3,2.75,3.75,2.75,3.4,2.65,3.5,2.55,3.2,2.35,3.6,2.4,3.85,2.55,3.95,2.2,3.1,2.1,2.8,2.25,2.8,2.35,2.7,2.45,3.0,1.95,3.35,1.85,3.55,1.75,3.9,1.6,3.85,1.5,4.1,1.4,4.35,1.3,4.0,1.15,4.0,1.05,3.95,.8,3.9,.75,3.6,.4,4.35,.25,4.05,.4,3.7,.4,3.55,.1,3.45,.2,3.5,.3,3.5,.3,3.15,.45,3.2,.55,3.25,.7,3.3,.85,3.55,1.0,3.5,1.15,3.55,1.3,3.6,1.4,3.4,1.55,3.2,1.7,3.2,1.8,3.3,1.95,3.0,2.0,2.65,1.9,2.3,1.75,2.1,1.65,2.45,1.5,2.5,1.4,2.9,1.45,2.7,1.3,2.6,1.2,2.35,1.15,2.1,1.05,2.4,.95,2.75,.85,3.0,.7,2.8,.6,2.6,.5,2.85,.4,2.95,.25,2.8,.15,2.9,.1,2.45,.05,2.45,.2,2.3,.35,2.2,.45,2.45,.55,2.55,.65,2.3,.75,2.1,.9,2.0,1.0,1.7,1.2,1.6,1.35,1.75,1.45,1.85,1.5,1.55,1.65,1.8,1.85,1.6,1.5,1.15,1.95,1.15,2.15,.95,1.65,.5,1.05,.6,1,.35,1.15,1.45,1.25,1.3,1.4,1.4,.9,.75,.8,1.1,.95,1.2,.85,1.45,.75,1.65,.6,1.85,.5,1.95,.4,1.75,.3,1.95,.2,1.85,.1,1.6,.25,1.5,.4,1.4,.55,1.55,.65,1.6,.55,1.25,.4,1.15,.25,1.05,.1,1,.03,.85,.15,.8,.3,.85,.45,.85,.6,.9,.7,.95,.75,.55,.65,.4,.55,.3,.45,.45,.35,.55,.25,.65,.15,.55,.05,.55,.03,.3,.08,.2,.15,.3,.25,.15,.35,.25,.45,.15,.55,.3,.2,.45,.1,.4,.3,.7,.4,.7];
const prf1Dense=[.03,.45,.08,.6,.13,.4,.18,.15,.23,.4,.28,.15,.33,.55,.38,.1,.43,.4,.48,.2,.53,.45,.58,.3,.63,.15,.68,.4,.08,.95,.13,.8,.18,.95,.23,.75,.28,1,.33,.7,.38,.85,.43,1,.48,.8,.53,.95,.58,.8,.63,1.05,.68,.85,.12,1.15,.17,1.3,.22,1.05,.27,1.2,.32,1.35,.37,1.15,.42,1.25,.47,1.4,.52,1.2,.57,1.3,.62,1.15,.67,1.4,.72,1.25,.77,1.45,.2,1.6,.25,1.75,.3,1.55,.35,1.7,.4,1.6,.45,1.75,.5,1.65,.55,1.8,.6,1.6,.65,1.75,.7,1.7,.75,1.85,.83,1.6,.3,2.05,.35,2.3,.4,2.1,.45,2.05,.5,2.2,.55,2.1,.6,2.3,.65,2.1,.7,2.25,.75,2.35,.8,2.05,.22,2.55,.3,2.65,.38,2.75,.48,2.7,.58,2.6,.68,2.55,.78,2.65,.25,3,.35,3.05,.5,3.05,.62,3.05,.72,3,.82,3.15];
const prf1L=[.95,1.5,2,2.5,2.95,3.5,3.95,4.45,4.85,4.95,4.75,4.2,3.45];
const prf1U=[1.3,2.15,3.1,4.1,4.6,5.05,5.2,5.05,4.65,4.5];
const prf1D=[.6,1.85,2.8,3.8,4.3,4.65,4.7,4.45,3.75,2.4];

const panels=[
 {gene:'KLRK1',pts:klrk1.concat(klrk1Dense),line:klrk1L,up:klrk1U,dn:klrk1D,ticks:[0,2,4,6],minor:[1,3,5,7],dec:0,left:183,right:417,top:53,bottom:287,x:[-.235,5.44],y:[-.355,7.19],xlab:0,strip:159,cor:'0.722',p:'4.62',e:'-77',ax:[411,66,84],lab:[119,172],topStrip:28,stripMid:300},
 {gene:'NCR1',pts:ncr1.concat(ncr1Dense),line:ncr1L,up:ncr1U,dn:ncr1D,ticks:[0,1,2],minor:[.5,1.5,2.5],dec:0,left:183,right:417,top:295,bottom:529,x:[-.235,5.44],y:[-.225,2.874],xlab:0,strip:159,cor:'0.586',p:'8.21',e:'-45',ax:[411,309,327],lab:[119,404]},
 {gene:'NCR2',pts:ncr2,line:ncr2L,up:ncr2U,dn:ncr2D,ticks:[0,.5,1,1.5],minor:[.25,.75,1.25,1.75],dec:1,left:183,right:417,top:538,bottom:772,x:[-.235,5.44],y:[-.14,1.88],xlab:0,strip:159,cor:'0.302',p:'2.06',e:'-11',ax:[411,552,571],lab:[119,648]},
 {gene:'NCR3',pts:ncr3.concat(ncr3Dense),line:ncr3L,up:ncr3U,dn:ncr3D,ticks:[0,2,4],minor:[1,3,5],dec:0,left:183,right:417,top:780,bottom:1014,x:[-.235,5.44],y:[-.32,5.98],xlab:1,strip:159,cor:'0.746',p:'6.55',e:'-85',ax:[411,795,813],lab:[119,895]},
 {gene:'FAS',pts:fas,line:fasL,up:fasU,dn:fasD,ticks:[0,2,4,6],minor:[1,3,5],dec:0,left:548,right:797,top:48,bottom:281,x:[-.227,5.42],y:[-.14,6.45],xlab:0,strip:523,cor:'0.529',p:null,ax:[791,63,81],lab:[482,166],topStrip:24,stripMid:672.5},
 {gene:'FASLG',pts:faslg.concat(faslgDense),line:faslgL,up:faslgU,dn:faslgD,ticks:[0,1,2,3,4,5],minor:[.5,1.5,2.5,3.5,4.5],dec:0,left:548,right:797,top:290,bottom:524,x:[-.227,5.42],y:[-.43,5.05],xlab:1,strip:523,cor:'0.752',p:'5.35',e:'-87',ax:[791,305,323],lab:[486,408]},
 {gene:'GZMA',pts:gzma.concat(gzmaDense),line:gzmaL,up:gzmaU,dn:gzmaD,ticks:[0,2,4,6,8],minor:[1,3,5,7],dec:0,left:932,right:1166,top:47,bottom:281,x:[-.235,5.405],y:[-.41,8.89],xlab:0,strip:908,cor:'0.753',p:'2.75',e:'-87',ax:[1162,62,81],lab:[862,166],topStrip:24,stripMid:1049},
 {gene:'GZMB',pts:gzmb.concat(gzmbDense),line:gzmbL,up:gzmbU,dn:gzmbD,ticks:[0,2.5,5,7.5],minor:[1.25,3.75,6.25],dec:1,left:932,right:1166,top:289,bottom:523,x:[-.235,5.405],y:[-.435,9.45],xlab:0,strip:908,cor:'0.67',p:null,ax:[1162,303,323],lab:[866,405]},
 {gene:'PRF1',pts:prf1.concat(prf1Dense),line:prf1L,up:prf1U,dn:prf1D,ticks:[0,2,4,6,8],minor:[1,3,5,7],dec:0,left:932,right:1166,top:531,bottom:764,x:[-.235,5.405],y:[-.21,8.35],xlab:1,strip:908,cor:'0.697',p:'1.24',e:'-69',ax:[1162,545,564],lab:[864,651]}
];

const rows=['COAD (n=500)','SKCM (n=473)'];
const rowPos=[0,1];
const cols=['NK cell activated|CIBERSORT','NK cell activated|CIBERSORT-ABS','NK cell resting|CIBERSORT','NK cell resting|CIBERSORT-ABS'];
const coadVals=[-0.153,-0.074,-0.005,0.02];
const skcmVals=[0.121,0.476,-0.246,-0.197];
const coadSig=['neg','ns','ns','ns'];
const skcmSig=['pos','pos','neg','neg'];
const sigColor={pos:'#f8786b',neg:'#83cbe9',ns:'#d0d0d0'};

const F='"Liberation Sans",Arial,sans-serif';
const grid=[],xAxis=[],yAxis=[],series=[],graphic=[];
const pair=a=>{const o=[];for(let i=0;i+1<a.length;i+=2)o.push([a[i],a[i+1]]);return o;};
const BORDER='#7f7f7f',STRIP='#d9d9d9';
const T=(x,y,text,size,o={})=>({type:'text',x,y,rotation:o.rot||0,z:o.z||50,style:Object.assign({text,font:`${o.style||'normal'} ${o.weight||'normal'} ${size}px ${F}`,fill:o.fill||'#000',align:o.align||'center',verticalAlign:o.va||'middle'},o.extra||{})});
const R=(x,y,w,h,fill,stroke,lw)=>({type:'rect',z:5,shape:{x,y,width:w,height:h},style:{fill,stroke:stroke||null,lineWidth:lw||0}});
const L=(x1,y1,x2,y2,stroke,lw,z)=>({type:'line',z:z||6,shape:{x1,y1,x2,y2},style:{stroke,lineWidth:lw}});

panels.forEach((p,i)=>{
  const w=p.right-p.left,h=p.bottom-p.top,g=i;
  grid.push({left:p.left,top:p.top,width:w,height:h,show:true,borderColor:BORDER,borderWidth:1,backgroundColor:'#fff'});
  xAxis.push({gridIndex:g,type:'value',min:p.x[0],max:p.x[1],position:'bottom',
    axisLine:{show:false,onZero:false},axisTick:{show:!!p.xlab,length:3,lineStyle:{color:'#666'},customValues:xTicks},
    axisLabel:{show:!!p.xlab,customValues:xTicks,color:'#6a6a6a',fontSize:10.5,fontFamily:F,margin:7},
    splitLine:{show:true,lineStyle:{color:'#ebebeb',width:1}}});
  xAxis.push({gridIndex:g,type:'value',min:p.x[0],max:p.x[1],position:'top',
    axisLine:{show:false,onZero:false},axisTick:{show:false,customValues:xMinor},axisLabel:{show:false},
    splitLine:{show:true,lineStyle:{color:'#f5f5f5',width:1}}});
  const dec=p.dec;
  yAxis.push({gridIndex:g,type:'value',min:p.y[0],max:p.y[1],position:'left',offset:p.left-p.strip,
    axisLine:{show:false,onZero:false},axisTick:{show:true,length:3,lineStyle:{color:'#666'},customValues:p.ticks},
    axisLabel:{customValues:p.ticks,color:'#6a6a6a',fontSize:10.5,fontFamily:F,margin:6,formatter:v=>Number(v).toFixed(dec)},
    splitLine:{show:true,lineStyle:{color:'#ebebeb',width:1}}});
  yAxis.push({gridIndex:g,type:'value',min:p.y[0],max:p.y[1],position:'right',
    axisLine:{show:false,onZero:false},axisTick:{show:false,customValues:p.minor},axisLabel:{show:false},
    splitLine:{show:true,lineStyle:{color:'#f5f5f5',width:1}}});
  const xi=i*2,yi=i*2;
  series.push({type:'scatter',xAxisIndex:xi,yAxisIndex:yi,data:pair(p.pts),symbolSize:5.7,z:3,silent:true,itemStyle:{color:'#000',opacity:.95},animation:false,large:false});
  const band=cix.map((x,k)=>[x,p.up[k]]).concat(cix.map((x,k)=>[x,p.dn[k]]).reverse());
  series.push({type:'custom',xAxisIndex:xi,yAxisIndex:yi,z:4,silent:true,animation:false,clip:true,data:[[0,0]],
    renderItem:(params,api)=>({type:'polygon',shape:{points:band.map(d=>api.coord(d))},style:{fill:'rgba(153,153,153,.42)'}})});
  series.push({type:'line',xAxisIndex:xi,yAxisIndex:yi,z:5,silent:true,animation:false,smooth:.3,showSymbol:false,symbol:'none',data:cx.map((x,k)=>[x,p.line[k]]),lineStyle:{color:'#3566dd',width:2.4}});

  graphic.push(R(p.strip,p.top,p.left-p.strip,h,STRIP,BORDER,1));
  graphic.push(L(p.left,p.top,p.left,p.bottom,'#555',1.6));
  graphic.push(T((p.strip+p.left)/2+1,(p.top+p.bottom)/2,p.gene,10.5,{rot:Math.PI/2,fill:'#444'}));
  if(p.topStrip){
    graphic.push(R(p.left,p.topStrip,w,p.top-p.topStrip,STRIP,BORDER,1));
    graphic.push(L(p.left,p.top,p.right,p.top,'#555',1.6));
    graphic.push(T(p.stripMid,(p.topStrip+p.top)/2+1,'LY75',11,{fill:'#444'}));
  }
  graphic.push(T(p.lab[0],p.lab[1],p.gene,26,{rot:Math.PI/2,style:'italic',extra:{stroke:'#000',lineWidth:.8}}));
  const red='#d9343f';
  graphic.push(T(p.ax[0],p.ax[1],'cor = '+p.cor,13,{align:'right',fill:red}));
  const rich={i:{font:`italic 13px ${F}`,fill:red},n:{font:`13px ${F}`,fill:red},s:{font:`8.5px ${F}`,fill:red,verticalAlign:'top',padding:[0,0,4,0]}};
  const ptext=p.p?`{i|p}{n| = ${p.p} × 10}{s|${p.e}}`:`{i|p}{n| = 0.00}`;
  graphic.push({type:'text',x:p.e?p.ax[0]+2:p.ax[0],y:p.ax[2],z:50,style:{text:ptext,rich,align:'right',verticalAlign:'middle',fill:red,font:`13px ${F}`}});
});

[['a',102,29],['b',478,29],['c',857,30],['d',95,1181]].forEach(a=>graphic.push(T(a[1],a[2],a[0],37,{weight:'bold'})));

graphic.push(L(79,1053,79,345,'#000',3));
graphic.push(L(79,1053,790,1053,'#000',3));
graphic.push({type:'polygon',z:6,shape:{points:[[79,336],[74,349],[84,349]]},style:{fill:'#000'}});
graphic.push({type:'polygon',z:6,shape:{points:[[799,1053],[786,1048],[786,1058]]},style:{fill:'#000'}});
graphic.push(T(25,730,'Gene expression level (log2 RSEM)',26,{rot:Math.PI/2,weight:'bold',fill:'#1a1a1a'}));
graphic.push({type:'text',x:144,y:1093,z:50,style:{text:'{i|Ly75}{n| expression level (log2 RSEM)}',align:'left',verticalAlign:'middle',
  rich:{i:{font:`italic bold 26px ${F}`,fill:'#1a1a1a'},n:{font:`bold 26px ${F}`,fill:'#1a1a1a'}}}});

const legend=[['pos',': positive correlation (p<0.05, ρ>0)'],['neg',': negative correlation (p<0.05, ρ<0)'],['ns',': not significant (p>0.05)']];
graphic.push({type:'rect',z:5,shape:{x:158,y:1179,width:129,height:87},style:{fill:'none',stroke:'#ddd',lineWidth:1.5}});
legend.forEach((l,i)=>{
  const y=1193+i*28.7;
  graphic.push({type:'rect',z:5,shape:{x:162,y:y-10,width:122,height:20},style:{fill:sigColor[l[0]]}});
  graphic.push(T(222,y+.5,"Spearman's ρ",17,{fill:'#333'}));
  graphic.push(T(291,y+.5,l[1],19,{align:'left',fill:'#333'}));
  if(i<2)graphic.push(L(158,y+14.3,287,y+14.3,'#ddd',1.5));
});
graphic.push(T(211,1383,'cancer',27,{align:'left',weight:'bold',fill:'#222'}));

graphic.push(L(160,1409,1100,1409,'#111',2.5));
graphic.push(L(160,1460,1100,1460,'#ddd',2));
graphic.push(L(160,1409,160,1508,'#ddd',2));
graphic.push(L(723,1409,723,1508,'#ddd',2));
graphic.push(L(974,1409,974,1508,'#ddd',2));
graphic.push({type:'polyline',z:20,shape:{points:[[598,1510],[598,1173],[846,1173],[846,1510]]},style:{fill:'none',stroke:'#c00012',lineWidth:3.2}});
graphic.push({type:'polyline',z:20,shape:{points:[[851,1510],[851,1173],[1098,1173],[1098,1510]]},style:{fill:'none',stroke:'#0f70c0',lineWidth:3.2}});
const headX=[[645,685],[771,810],[897,937],[1023,1062]];
cols.forEach((c,i)=>{c.split('|').forEach((t,j)=>{
  graphic.push(T(headX[i][j],1400,t,27,{rot:Math.PI/2,align:'left',fill:'#111',extra:{stroke:'#111',lineWidth:.6}}));
});});

const gi=panels.length;
grid.push({left:597.2,top:1411,width:502.7,height:97,show:false});
xAxis.push({gridIndex:gi,type:'category',data:cols,show:false});
yAxis.push({gridIndex:gi,type:'value',min:-.5,max:1.42,inverse:true,position:'left',axisLine:{show:false,onZero:false},axisTick:{show:false,customValues:rowPos},splitLine:{show:false},
  axisLabel:{customValues:rowPos,align:'center',margin:219,fontSize:24.5,color:'#555',fontFamily:F,formatter:v=>rows[v]}});
const cells=[];
coadVals.forEach((v,k)=>cells.push([k,0,v,coadSig[k]]));
skcmVals.forEach((v,k)=>cells.push([k,1,v,skcmSig[k]]));
series.push({type:'custom',xAxisIndex:panels.length*2,yAxisIndex:panels.length*2,z:4,silent:true,animation:false,clip:false,data:cells,
  encode:{x:0,y:1},
  renderItem:(params,api)=>{
    const c=api.coord([api.value(0),api.value(1)]);const s=api.size([1,1]);
    const w=s[0]*.845,h=32;
    const d=cells[params.dataIndex];
    return {type:'rect',shape:{x:c[0]-w/2,y:c[1]-h/2,width:w,height:h},style:{fill:sigColor[d[3]]},
      textContent:{style:{text:String(d[2]),font:`24px ${F}`,fill:'#555'}},textConfig:{position:'inside'}};
  }});

const chart=echarts.init(document.getElementById('c'),null,{renderer:'canvas',width:1166,height:1508});
chart.setOption({animation:false,backgroundColor:'#fff',grid,xAxis,yAxis,series,graphic});
</script></body></html>
